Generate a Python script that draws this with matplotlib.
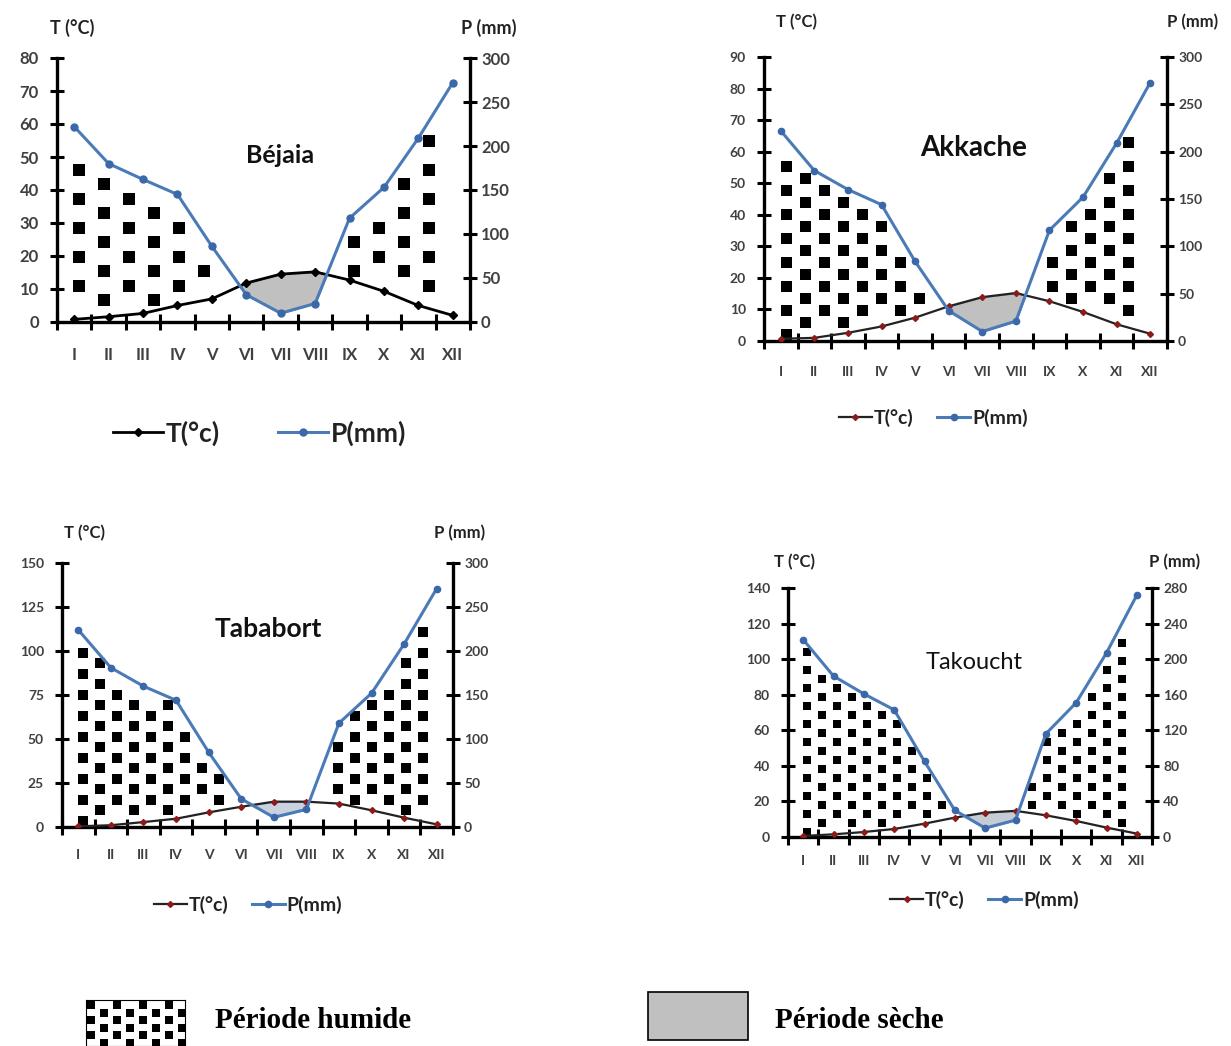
import matplotlib
matplotlib.use('Agg')
import matplotlib.pyplot as plt
import numpy as np
from matplotlib.path import Path
from matplotlib.patches import Rectangle

plt.rcParams['font.family'] = ['Lato', 'DejaVu Sans']

months = ['I', 'II', 'III', 'IV', 'V', 'VI', 'VII', 'VIII', 'IX', 'X', 'XI', 'XII']

# values (T on the left scale, P on the right scale)
bejaia_t = [0.8, 1.6, 2.6, 5.0, 7.0, 11.8, 14.5, 15.2, 12.7, 9.3, 5.0, 2.0]
bejaia_p = [222, 180, 162, 145, 86, 31, 10, 21, 118, 153, 209, 272]

akkache_t = [0.7, 1.0, 2.6, 4.6, 7.4, 11.0, 13.9, 15.2, 12.6, 9.2, 5.3, 2.3]
akkache_p = [222, 180, 160, 144, 84, 32, 10, 21, 117, 152, 209, 273]

tababort_t = [0.4, 1.0, 2.8, 4.7, 8.3, 11.5, 14.4, 14.4, 13.3, 9.5, 5.3, 1.5]
tababort_p = [224, 181, 160, 144, 85, 32, 11, 20, 118, 152, 208, 271]

takoucht_t = [0.6, 1.5, 2.8, 4.5, 7.5, 10.9, 13.7, 14.7, 12.2, 9.0, 5.3, 1.9]
takoucht_p = [222, 181, 161, 143, 85, 30, 10, 19, 116, 151, 207, 272]

W, H = 1231, 1046
fig = plt.figure(figsize=(W / 100, H / 100), dpi=100)


def px_axes(l, r, t, b):
    return fig.add_axes([l / W, 1 - b / H, (r - l) / W, (b - t) / H])


def ftext(x, y, s, **kw):
    fig.text(x / W, 1 - y / H, s, **kw)


def square_grid(w_px, h_px, dx, dy, x0, y0):
    pts = []
    for i, cx in enumerate(np.arange(x0, w_px, dx)):
        off = dy / 2 if i % 2 else 0
        for cy in np.arange(y0 + off, h_px, dy):
            pts.append((cx, cy))
    return np.array(pts)


def draw_panel(name, t, p, box, tmax, tstep, pmax, pstep, st):
    l, r, top, bot = box
    w_px, h_px = r - l, bot - top
    ax = px_axes(l, r, top, bot)
    ax2 = ax.twinx()
    x = np.arange(1, 13)
    t = np.asarray(t, float)
    p_t = np.asarray(p, float) * tmax / pmax

    ax.set_xlim(0.5, 12.5)
    ax.set_ylim(0, tmax)
    ax2.set_ylim(0, pmax)

    # dry period: P curve below T curve
    ax.fill_between(x, t, p_t, where=t >= p_t, interpolate=True,
                    facecolor=st['dry'], edgecolor=st['dry_edge'], lw=1, zorder=1)
    # humid period: squares pattern between P and T
    wet = ax.fill_between(x, t, p_t, where=p_t > t, interpolate=True,
                          facecolor='none', edgecolor='none')
    wet_path = Path.make_compound_path(*wet.get_paths())
    sq = st['sq']
    pts = square_grid(w_px, h_px, st['dx'], st['dy'],
                      w_px / 24 + 0.35 * sq + 1, sq * 0.6)
    gx = 0.5 + pts[:, 0] / w_px * 12
    gy = pts[:, 1] / h_px * tmax
    hx = 0.35 * sq / w_px * 12
    hy = 0.35 * sq / h_px * tmax
    inside = np.ones(len(gx), bool)
    for sx in (-hx, hx):
        for sy in (-hy, hy):
            inside &= wet_path.contains_points(np.column_stack([gx + sx, gy + sy]))
    ax.scatter(gx[inside], gy[inside], marker='s', s=(sq * 0.72) ** 2,
               c='black', linewidths=0, zorder=2)

    lt, = ax.plot(x, t, color=st['tline'], lw=st['tlw'], marker='D',
                  ms=st['tms'], mfc=st['tmark'], mec=st['tmark'], zorder=3,
                  label='T(°c)')
    lp, = ax2.plot(x, p, color='#4a7bb7', lw=2.2, marker='o', ms=st['pms'],
                   mfc='#3b68a8', mec='#3b68a8', zorder=4, label='P(mm)')

    for a in (ax, ax2):
        a.spines['top'].set_visible(False)
    ax.spines['right'].set_visible(False)
    ax2.spines['left'].set_visible(False)
    ax2.spines['bottom'].set_visible(False)
    for sp in ('left', 'bottom'):
        ax.spines[sp].set_linewidth(2.4)
    ax2.spines['right'].set_linewidth(2.4)

    ax.set_yticks(np.arange(0, tmax + 1, tstep))
    ax2.set_yticks(np.arange(0, pmax + 1, pstep))
    ax.tick_params(axis='y', direction='inout', length=10, width=2.2,
                   labelsize=st['fs'], labelcolor='#404040', pad=st['ypad'])
    ax2.tick_params(axis='y', direction='inout', length=10, width=2.2,
                    labelsize=st['fs'], labelcolor='#404040', pad=3)
    ax.set_xticks(x, months)
    ax.set_xticks(np.arange(0.5, 13, 1), minor=True)
    ax.tick_params(axis='x', which='major', length=0, labelsize=st['fs'],
                   labelcolor='#404040', pad=st['xpad'])
    ax.tick_params(axis='x', which='minor', direction='inout', length=12, width=2.2)
    for lab in ax.get_xticklabels() + ax.get_yticklabels() + ax2.get_yticklabels():
        lab.set_fontweight('bold')

    ax.text(st['tx'], st['ty'], name, transform=ax.transAxes, ha='center',
            va='center', fontsize=st['tfs'], fontweight=st['tw'], color='#111111')
    leg = ax2.legend(handles=[lt, lp], loc='center', bbox_to_anchor=(st['lx'], st['ly']),
                     ncol=2, frameon=False, fontsize=st['lfs'], handlelength=st['hl'],
                     handletextpad=0.1, columnspacing=st['cs'], numpoints=1)
    for txt in leg.get_texts():
        txt.set_fontweight('bold')
        txt.set_color('#222222')

    ftext(l + st['ulx'], top - st['uly'], 'T (°C)', ha='center', va='center',
          fontsize=st['ufs'], fontweight='bold', color='#222222')
    ftext(r + st['urx'], top - st['uly'], 'P (mm)', ha='center', va='center',
          fontsize=st['ufs'], fontweight='bold', color='#222222')


base = dict(dry='#c0c0c0', dry_edge='#7f90aa', sq=12, dx=25, dy=29,
            tline='black', tlw=2.0, tms=4.5, tmark='black', pms=5, fs=12,
            ypad=8, xpad=18, tx=0.54, ty=0.63, tfs=18, tw='bold',
            lx=0.49, ly=-0.42, lfs=19, hl=1.9, cs=2.2,
            ulx=15, urx=19, uly=30, ufs=13)

draw_panel('Béjaia', bejaia_t, bejaia_p, (57, 470, 58, 322), 80, 10, 300, 50, base)

st2 = dict(base, sq=11, dx=19, dy=24, tline='#222222', tlw=1.6, tms=3,
           tmark='#8b1a1a', pms=4.5, fs=10, xpad=18, tx=0.52, ty=0.68, tfs=20,
           lx=0.42, ly=-0.27, lfs=14, hl=1.7, cs=1.2,
           ulx=33, urx=26, uly=35, ufs=12)
draw_panel('Akkache', akkache_t, akkache_p, (764, 1167, 57, 341), 90, 10, 300, 50, st2)

st3 = dict(st2, dry='#c9d2de', dry_edge='#9fb0c8', sq=10.5, dx=17, dy=21,
           tx=0.527, ty=0.75, tfs=19, lx=0.476, ly=-0.295, lfs=14,
           ulx=22, urx=7, uly=30, fs=10, xpad=16)
draw_panel('Tababort', tababort_t, tababort_p, (62, 453, 563, 827), 150, 25, 300, 50, st3)

st4 = dict(st2, dry='#c6ccd4', dry_edge='#9fb0c8', sq=8, dx=15, dy=18,
           tx=0.51, ty=0.70, tfs=17, tw='normal', lx=0.54, ly=-0.253, lfs=14,
           ulx=7, urx=23, uly=26, fs=10, xpad=13)
draw_panel('Takoucht', takoucht_t, takoucht_p, (788, 1152, 588, 837), 140, 20, 280, 40, st4)

# bottom legend
lg = px_axes(86, 185, 1000, 1046)
lg.set_xlim(0, 99)
lg.set_ylim(0, 46)
pat = square_grid(99, 46, 13, 15, 5, 5)
lg.scatter(pat[:, 0], 46 - pat[:, 1], marker='s', s=(8 * 0.72) ** 2,
           c='black', linewidths=0)
lg.set_xticks([])
lg.set_yticks([])
for sp in lg.spines.values():
    sp.set_linewidth(0.8)

fig.add_artist(Rectangle((648 / W, 1 - 1040 / H), 100 / W, 48 / H,
                         transform=fig.transFigure, facecolor='#c0c0c0',
                         edgecolor='black', lw=1.2))
ftext(215, 1020, 'Période humide', family='Liberation Serif', weight='bold',
      size=21, va='center')
ftext(775, 1020, 'Période sèche', family='Liberation Serif', weight='bold',
      size=21, va='center')

fig.savefig('out.png', dpi=100)
